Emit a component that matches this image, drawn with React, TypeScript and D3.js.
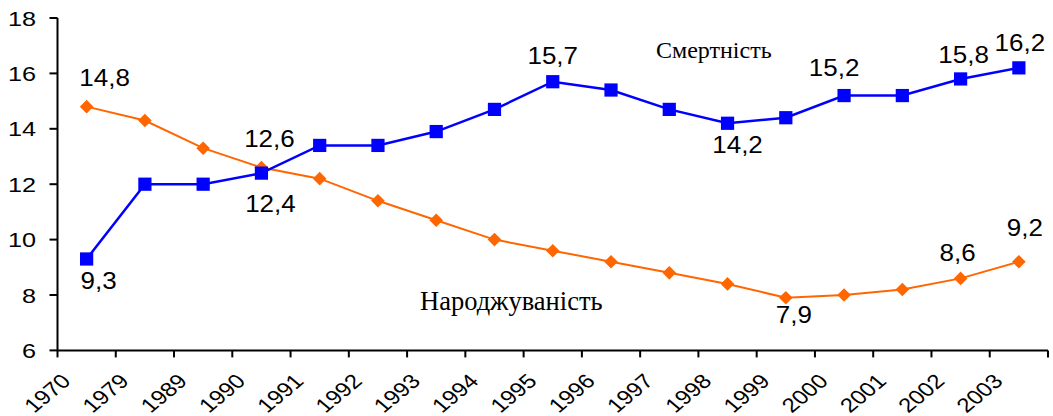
import * as d3 from "d3";

const width = 1053;
const height = 416;

const years = [
  "1970", "1979", "1989", "1990", "1991", "1992", "1993", "1994", "1995",
  "1996", "1997", "1998", "1999", "2000", "2001", "2002", "2003",
];
// Смертність
const mortality = [9.3, 12.0, 12.0, 12.4, 13.4, 13.4, 13.9, 14.7, 15.7, 15.4, 14.7, 14.2, 14.4, 15.2, 15.2, 15.8, 16.2];
// Народжуваність
const birthRate = [14.8, 14.3, 13.3, 12.6, 12.2, 11.4, 10.7, 10.0, 9.6, 9.2, 8.8, 8.4, 7.9, 8.0, 8.2, 8.6, 9.2];
const yTicks = [6, 8, 10, 12, 14, 16, 18];

// which points carry a value label, and where the label sits
const mortalityLabels = [
  { i: 0, dx: 12, dy: 30 },
  { i: 3, dx: 9, dy: 39 },
  { i: 8, dx: 0, dy: -18 },
  { i: 11, dx: 10, dy: 30 },
  { i: 13, dx: -10, dy: -20 },
  { i: 15, dx: 3, dy: -16 },
  { i: 16, dx: 1, dy: -17 },
];
const birthLabels = [
  { i: 0, dx: 18, dy: -21 },
  { i: 3, dx: 8, dy: -21 },
  { i: 12, dx: 8, dy: 25 },
  { i: 15, dx: -3, dy: -17 },
  { i: 16, dx: 6, dy: -26 },
];

const BLUE = "#0000ff";
const ORANGE = "#ff6600";
const sans = "'Liberation Sans', Arial, sans-serif";
const serif = "'Liberation Serif', 'Times New Roman', serif";

const margin = { left: 57.5, right: 5, top: 18, bottom: 65.6 };
const x = d3.scaleBand().domain(years).range([margin.left, width - margin.right]).padding(0);
const y = d3.scaleLinear().domain([6, 18]).range([height - margin.bottom, margin.top]);
const cx = (yr: string) => (x(yr) as number) + x.bandwidth() / 2;

const lineGen = d3
  .line<number>()
  .x((_, i) => cx(years[i]))
  .y((d) => y(d));

const square = d3.symbol(d3.symbolSquare, 175)();
const diamond = d3.symbol((d3 as any).symbolDiamond2 || d3.symbolDiamond, 118)();

const fmt = (v: number) => v.toFixed(1).replace(".", ",");

// the original text is drawn a little wider than Arial
const wide = (px: number, py: number, sx: number) => `translate(${px},${py}) scale(${sx},1)`;

const App = () => {
  const x0 = margin.left;
  const yBottom = y(6);
  const tickPositions = years.map((yr) => x(yr) as number).concat([width - margin.right]);

  const valueLabel = (key: string, v: number, px: number, py: number) => (
    <text
      key={key}
      transform={wide(px, py, 1.13)}
      textAnchor="middle"
      fontFamily={sans}
      fontSize={23}
      fill="#000"
    >
      {fmt(v)}
    </text>
  );

  return (
    <svg
      width={width}
      height={height}
      style={{ position: "absolute", left: 0, top: 0, background: "#fff" }}
    >
      {/* y axis */}
      <line x1={x0} x2={x0} y1={y(18)} y2={yBottom} stroke="#000" strokeWidth={2} />
      {yTicks.map((t) => (
        <g key={t}>
          <line x1={x0 - 8} x2={x0} y1={y(t)} y2={y(t)} stroke="#000" strokeWidth={2} />
          <text
            transform={wide(36, y(t), 1.2)}
            dy="0.36em"
            textAnchor="end"
            fontFamily={sans}
            fontSize={21}
            fill="#000"
          >
            {t}
          </text>
        </g>
      ))}

      {/* x axis */}
      <line x1={x0} x2={width - margin.right} y1={yBottom} y2={yBottom} stroke="#000" strokeWidth={2} />
      {tickPositions.map((tx, i) => (
        <line key={i} x1={tx} x2={tx} y1={yBottom} y2={yBottom + 7} stroke="#000" strokeWidth={2} />
      ))}
      {years.map((yr) => (
        <text
          key={yr}
          transform={`translate(${(x(yr) as number) + 14.5},${yBottom + 32}) scale(1.2,1) rotate(-45)`}
          textAnchor="end"
          fontFamily={sans}
          fontSize={20}
          fill="#000"
        >
          {yr}
        </text>
      ))}

      {/* series */}
      <path d={lineGen(birthRate) || ""} fill="none" stroke={ORANGE} strokeWidth={2} />
      <path d={lineGen(mortality) || ""} fill="none" stroke={BLUE} strokeWidth={2.5} />
      {birthRate.map((v, i) => (
        <path key={i} d={diamond || ""} transform={`translate(${cx(years[i])},${y(v)})`} fill={ORANGE} />
      ))}
      {mortality.map((v, i) => (
        <path key={i} d={square || ""} transform={`translate(${cx(years[i])},${y(v)})`} fill={BLUE} />
      ))}

      {/* value labels */}
      {mortalityLabels.map((l) =>
        valueLabel(`m${l.i}`, mortality[l.i], cx(years[l.i]) + l.dx, y(mortality[l.i]) + l.dy)
      )}
      {birthLabels.map((l) =>
        valueLabel(`b${l.i}`, birthRate[l.i], cx(years[l.i]) + l.dx, y(birthRate[l.i]) + l.dy)
      )}

      {/* series names */}
      <text x={656} y={58} fontFamily={serif} fontSize={24} fill="#000">
        Смертність
      </text>
      <text x={420} y={310} fontFamily={serif} fontSize={26.5} fill="#000">
        Народжуваність
      </text>
    </svg>
  );
};

export default App;
